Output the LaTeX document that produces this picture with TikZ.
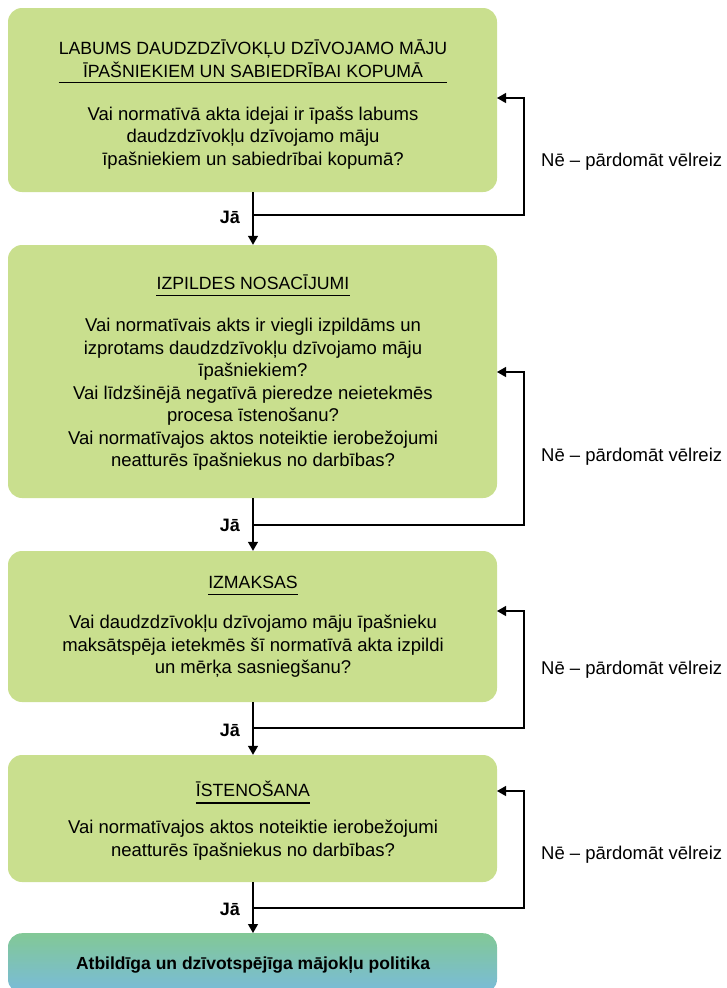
\documentclass[tikz,border=0pt]{standalone}
\usepackage{fontspec}
\setmainfont{Liberation Sans}
\usetikzlibrary{arrows.meta}
\definecolor{boxgreen}{HTML}{C9DF8E}
\definecolor{topgrad}{HTML}{82C896}
\definecolor{botgrad}{HTML}{79BBDA}
\tikzset{
  x=1pt, y=-1pt,
  stepbox/.style={draw=none, fill=boxgreen, rounded corners=14pt, minimum width=489pt, inner sep=0pt},
  titletext/.style={font=\fontsize{17.7}{22.5}\selectfont, align=center, inner sep=0pt},
  bodytext/.style={font=\fontsize{18.5}{22.5}\selectfont, align=center, inner sep=0pt},
  yeslabel/.style={font=\bfseries\fontsize{18}{20}\selectfont, anchor=east, inner sep=0pt},
  nolabel/.style={font=\fontsize{18.5}{20}\selectfont, anchor=west, inner sep=0pt},
  conn/.style={line width=1.2pt, -{Triangle[width=10pt,length=9pt]}},
  uline/.style={line width=1.2pt},
}
\begin{document}
\begin{tikzpicture}
\clip (0,0) rectangle (727,988);
% boxes
\node[stepbox, minimum height=184pt] (b1) at (252.5,100) {};
\node[stepbox, minimum height=253pt] (b2) at (252.5,371.5) {};
\node[stepbox, minimum height=151pt] (b3) at (252.5,626.5) {};
\node[stepbox, minimum height=127pt] (b4) at (252.5,818.5) {};
\node[draw=none, rounded corners=14pt, minimum width=489pt, minimum height=60pt, inner sep=0pt,
      top color=topgrad, bottom color=botgrad, anchor=north] (b5) at (252.5,933) {};
% titles
\node[titletext] (t1) at (253,59) {LABUMS DAUDZDZĪVOKĻU DZĪVOJAMO MĀJU\\ĪPAŠNIEKIEM UN SABIEDRĪBAI KOPUMĀ};
\node[titletext] (t2) at (253,282) {IZPILDES NOSACĪJUMI};
\node[titletext] (t3) at (253,582) {IZMAKSAS};
\node[titletext] (t4) at (253,789) {ĪSTENOŠANA};
\draw[uline] ([yshift=-5pt]t1.south west) -- ([yshift=-5pt]t1.south east);
\draw[uline] ([yshift=-6pt]t2.south west) -- ([yshift=-6pt]t2.south east);
\draw[uline] ([yshift=-6pt]t3.south west) -- ([yshift=-6pt]t3.south east);
\draw[uline] ([yshift=-6pt]t4.south west) -- ([yshift=-6pt]t4.south east);
% bodies
\node[bodytext] (q1) at (253,138) {Vai normatīvā akta idejai ir īpašs labums\\daudzdzīvokļu dzīvojamo māju\\īpašniekiem un sabiedrībai kopumā?};
\node[bodytext] (q2) at (253,394.5) {Vai normatīvais akts ir viegli izpildāms un\\izprotams daudzdzīvokļu dzīvojamo māju\\īpašniekiem?\\Vai līdzšinējā negatīvā pieredze neietekmēs\\procesa īstenošanu?\\Vai normatīvajos aktos noteiktie ierobežojumi\\neatturēs īpašniekus no darbības?};
\node[bodytext] (q3) at (253,646.5) {Vai daudzdzīvokļu dzīvojamo māju īpašnieku\\maksātspēja ietekmēs šī normatīvā akta izpildi\\un mērķa sasniegšanu?};
\node[bodytext] (q4) at (253,840) {Vai normatīvajos aktos noteiktie ierobežojumi\\neatturēs īpašniekus no darbības?};
\node[font=\fontsize{17.5}{20}\selectfont\bfseries, inner sep=0pt] (r5) at (253,965) {Atbildīga un dzīvotspējīga mājokļu politika};
% main arrows
\draw[conn] (b1.south -| 253,0) -- (b2.north -| 253,0);
\draw[conn] (b2.south -| 253,0) -- (b3.north -| 253,0);
\draw[conn] (b3.south -| 253,0) -- (b4.north -| 253,0);
\draw[conn] (b4.south -| 253,0) -- (b5.north -| 253,0);
% loop coordinates
\coordinate (j1) at (253,215);
\coordinate (j2) at (253,525);
\coordinate (j3) at (253,728);
\coordinate (j4) at (253,908);
\coordinate (e1) at (497,98);
\coordinate (e2) at (497,372);
\coordinate (e3) at (497,611);
\coordinate (e4) at (497,791);
\draw[conn] (j1) -- (524,215) |- (e1);
\draw[conn] (j2) -- (524,525) |- (e2);
\draw[conn] (j3) -- (524,728) |- (e3);
\draw[conn] (j4) -- (524,908) |- (e4);
% labels
\node[yeslabel] (y1) at (240,217) {Jā};
\node[yeslabel] (y2) at (240,525) {Jā};
\node[yeslabel] (y3) at (240,730) {Jā};
\node[yeslabel] (y4) at (240,909) {Jā};
\node[nolabel] (n1) at (541,162) {Nē – pārdomāt vēlreiz};
\node[nolabel] (n2) at (541,457) {Nē – pārdomāt vēlreiz};
\node[nolabel] (n3) at (541,670) {Nē – pārdomāt vēlreiz};
\node[nolabel] (n4) at (541,855) {Nē – pārdomāt vēlreiz};
\end{tikzpicture}
\end{document}
